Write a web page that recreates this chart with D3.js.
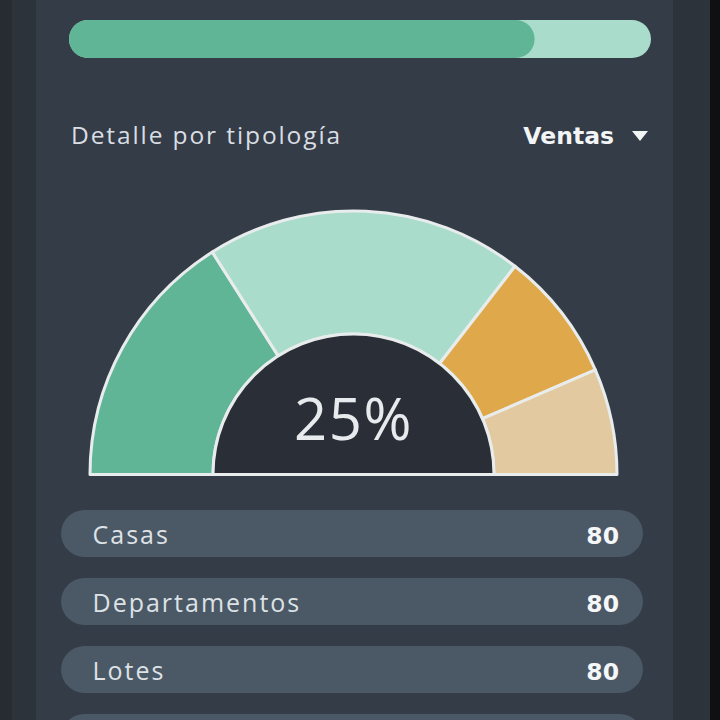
<!DOCTYPE html>
<html><head><meta charset="utf-8">
<script src="https://cdn.jsdelivr.net/npm/d3@7"></script>
<style>html,body{margin:0;padding:0;background:#0f1012;}svg{display:block;}</style>
</head><body>
<script>
// ---- data ----
const progressValue = 80;          // filled part of the top bar (out of 100)
const progressMax = 100;
const headerTitle = "Detalle por tipología";
const headerSelect = "Ventas";
const gaugeCategories = ["Casas", "Departamentos", "Lotes", "Otros"];
const gaugeValues = [32, 39, 16, 13];
const gaugeColors = ["#5fb596", "#a9dcca", "#dfa84a", "#e2c9a0"];
const centerLabel = "25%";
const rowLabels = ["Casas", "Departamentos", "Lotes", ""];
const rowValues = [80, 80, 80, null];

const W = 720, H = 720;
const svg = d3.select("body").append("svg").attr("width", W).attr("height", H);
const FONT = "'Open Sans', sans-serif";
const BOLD = "'DejaVu Sans', sans-serif";

// background panels
svg.append("rect").attr("x", 0).attr("y", 0).attr("width", W).attr("height", H).attr("fill", "#0f1012");
svg.append("rect").attr("x", 0).attr("y", 0).attr("width", 710).attr("height", H).attr("fill", "#2d333b");
svg.append("rect").attr("x", 0).attr("y", 0).attr("width", 12).attr("height", H).attr("fill", "#272c33");
svg.append("rect").attr("x", 36).attr("y", 0).attr("width", 637).attr("height", H).attr("fill", "#343c47");

// ---- progress bar ----
const px = d3.scaleLinear().domain([0, progressMax]).range([69, 651]);
const barY = 20, barH = 38;
svg.append("rect").attr("x", px(0)).attr("y", barY).attr("width", px(progressMax) - px(0)).attr("height", barH)
  .attr("rx", barH / 2).attr("fill", "#a9dcca");
svg.append("rect").attr("x", px(0)).attr("y", barY).attr("width", px(progressValue) - px(0)).attr("height", barH)
  .attr("rx", barH / 2).attr("fill", "#5fb596");

// ---- header ----
svg.append("text").attr("x", 71).attr("y", 143.5).attr("fill", "#d9dee3")
  .attr("font-family", FONT).attr("font-weight", 400).attr("font-size", 24.5)
  .attr("letter-spacing", 1.9).text(headerTitle);
svg.append("text").attr("x", 614).attr("y", 143.5).attr("text-anchor", "end").attr("fill", "#f2f4f6")
  .attr("font-family", BOLD).attr("font-weight", 700).attr("font-size", 23.5).text(headerSelect);
svg.append("path").attr("d", "M632,131 L648,131 L640,141 Z").attr("fill", "#f2f4f6");

// ---- gauge ----
const cx = 353.5, cy = 474.5, rOuter = 263.5, rInner = 140.5;
const g = svg.append("g").attr("transform", `translate(${cx},${cy})`);
const pie = d3.pie().sort(null).startAngle(-Math.PI / 2).endAngle(Math.PI / 2).value(d => d.v);
const arcs = pie(gaugeValues.map((v, i) => ({ v, c: gaugeColors[i], k: gaugeCategories[i] })));
const arc = d3.arc().innerRadius(rInner).outerRadius(rOuter);
g.selectAll("path.seg").data(arcs).join("path").attr("class", "seg")
  .attr("d", arc).attr("fill", d => d.data.c)
  .attr("stroke", "#e8ecec").attr("stroke-width", 3).attr("stroke-linejoin", "round");
g.append("path").attr("d", d3.arc().innerRadius(0).outerRadius(rInner)
  .startAngle(-Math.PI / 2).endAngle(Math.PI / 2)())
  .attr("fill", "#2a2f37").attr("stroke", "#e8ecec").attr("stroke-width", 3);
g.append("line").attr("x1", -rOuter).attr("x2", rOuter).attr("y1", 0).attr("y2", 0)
  .attr("stroke", "#e8ecec").attr("stroke-width", 3);
g.append("text").attr("x", 0).attr("y", -34.5).attr("text-anchor", "middle").attr("fill", "#e8ebee")
  .attr("font-family", FONT).attr("font-weight", 400).attr("font-size", 58)
  .attr("letter-spacing", 1.5).text(centerLabel);

// ---- rows ----
const ry = d3.scaleBand().domain(d3.range(rowLabels.length)).range([510, 761]).paddingInner(0.31).paddingOuter(0);
const rows = svg.selectAll("g.row").data(rowLabels.map((l, i) => ({ l, v: rowValues[i], i })))
  .join("g").attr("class", "row").attr("transform", d => `translate(0,${ry(d.i)})`);
rows.append("rect").attr("x", 61).attr("y", 0).attr("width", 582).attr("height", ry.bandwidth())
  .attr("rx", ry.bandwidth() / 2).attr("fill", "#4b5865");
rows.filter(d => d.l).append("text").attr("x", 92.5).attr("y", 33.5).attr("fill", "#dde2e6")
  .attr("font-family", FONT).attr("font-weight", 400).attr("font-size", 25)
  .attr("letter-spacing", 2).text(d => d.l);
rows.filter(d => d.v != null).append("text").attr("x", 619).attr("y", 33.5).attr("text-anchor", "end")
  .attr("fill", "#f4f6f8").attr("font-family", BOLD).attr("font-weight", 700).attr("font-size", 23.5).text(d => d.v);
</script>
</body></html>
